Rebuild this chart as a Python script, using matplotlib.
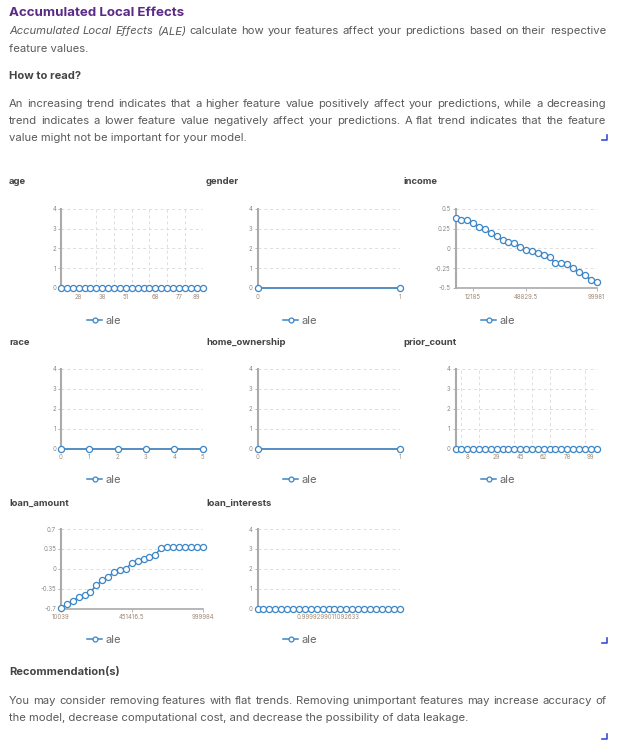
import numpy as np
import matplotlib
matplotlib.use("Agg")
import matplotlib.pyplot as plt
from matplotlib.lines import Line2D

plt.rcParams['font.family'] = ['Inter', 'DejaVu Sans']

W, H = 617, 749
BLUE = '#3d85c6'
TXT = '#5a5a5a'
HEAD = '#444444'

# ---- data ----
age_ale = [0, 0, 0, 0, 0, 0, 0, 0, 0, 0, 0, 0, 0, 0, 0, 0, 0, 0, 0, 0, 0, 0, 0, 0, 0]
age_tick_idx = [3, 7, 11, 16, 20, 23]
age_tick_lbl = ['28', '38', '51', '68', '77', '89']

gender_ale = [0, 0]
gender_tick_lbl = ['0', '1']

income_ale = [0.385, 0.364, 0.364, 0.321, 0.274, 0.253, 0.198, 0.160, 0.109, 0.083,
              0.074, 0.023, -0.019, -0.032, -0.053, -0.083, -0.113, -0.189, -0.189,
              -0.202, -0.253, -0.296, -0.338, -0.394, -0.423]
income_tick_idx = [3, 12, 24]
income_tick_lbl = ['12185', '48829.5', '99981']

race_ale = [0, 0, 0, 0, 0, 0]
race_tick_lbl = ['0', '1', '2', '3', '4', '5']

home_ale = [0, 0]
home_tick_lbl = ['0', '1']

prior_ale = [0, 0, 0, 0, 0, 0, 0, 0, 0, 0, 0, 0, 0, 0, 0, 0, 0, 0, 0, 0, 0, 0, 0, 0, 0]
prior_tick_idx = [2, 7, 11, 15, 19, 23]
prior_tick_lbl = ['8', '29', '45', '62', '78', '99']

loan_ale = [-0.688, -0.624, -0.571, -0.50, -0.459, -0.406, -0.294, -0.20, -0.141, -0.059,
            -0.029, 0.0, 0.10, 0.129, 0.165, 0.20, 0.247, 0.37, 0.385, 0.385, 0.385,
            0.385, 0.385, 0.385, 0.385]
loan_tick_idx = [0, 12, 24]
loan_tick_lbl = ['10039', '451416.5', '999984']

interest_ale = [0, 0, 0, 0, 0, 0, 0, 0, 0, 0, 0, 0, 0, 0, 0, 0, 0, 0, 0, 0, 0, 0, 0, 0, 0]
interest_tick_idx = [12]
interest_tick_lbl = ['0.9999299011092633']

fig = plt.figure(figsize=(W / 100, H / 100), dpi=100)
fig.patch.set_facecolor('white')


def fy(y):
    return 1 - y / H


def add_ax(x0, y0, x1, y1):
    return fig.add_axes([x0 / W, 1 - y1 / H, (x1 - x0) / W, (y1 - y0) / H])


def panel(ax, vals, ylim, yticks, ylabels, tick_idx, tick_lbl, grid_idx):
    x = np.arange(len(vals))
    ax.plot(x, vals, color=BLUE, lw=1.1, marker='o', ms=4.4, mfc='white',
            mec=BLUE, mew=0.9, clip_on=False, zorder=5, label='ale')
    ax.set_xlim(0, len(vals) - 1)
    ax.set_ylim(*ylim)
    for s in ['top', 'right']:
        ax.spines[s].set_visible(False)
    ax.spines['left'].set_color('#aaaaaa')
    ax.spines['left'].set_linewidth(1.5)
    ax.spines['bottom'].set_color('#aaaaaa')
    ax.spines['bottom'].set_linewidth(1.2)
    ax.set_yticks(yticks, ylabels)
    ax.set_xticks(tick_idx, tick_lbl)
    ax.set_xticks(grid_idx, minor=True)
    ax.tick_params(axis='y', labelsize=4.4, colors='#aaaaaa', labelcolor='#888888',
                   length=2, width=0.6, pad=1.5)
    ax.tick_params(axis='x', which='major', labelsize=4.4, colors='#aaaaaa',
                   labelcolor='#a08a78', length=2, width=0.6, pad=2)
    ax.tick_params(axis='x', which='minor', length=0)
    ax.yaxis.grid(True, ls=(0, (3, 3)), color='#dddddd', lw=0.7)
    ax.xaxis.grid(True, which='minor', ls=(0, (3, 3)), color='#dddddd', lw=0.7)
    ax.xaxis.grid(False, which='major')
    ax.set_axisbelow(True)


def legend(ax, cx, cy):
    ax.legend(loc='center', bbox_to_anchor=(cx / W, fy(cy)), bbox_transform=fig.transFigure,
              frameon=False, fontsize=8, handlelength=1.4, handletextpad=0.3,
              labelcolor='#666666', markerscale=0.8, borderpad=0)


zero4 = ((0, 4), [0, 1, 2, 3, 4], ['0', '1', '2', '3', '4'])
cols = [(61, 202.5), (257.5, 399.5), (455.5, 596.5)]
rows = [(209, 288), (369, 448.5), (529, 608.5)]
leg_x = [104, 300, 498]
leg_y = [321, 480, 640]
title_x = [9, 206, 403]
title_y = [182, 343, 503]

panels = [
    ('age', age_ale, zero4, age_tick_idx, age_tick_lbl, list(range(3, 25, 3))),
    ('gender', gender_ale, zero4, [0, 1], gender_tick_lbl, [1]),
    ('income', income_ale, ((-0.5, 0.5), [-0.5, -0.25, 0, 0.25, 0.5],
                            ['-0.5', '-0.25', '0', '0.25', '0.5']),
     income_tick_idx, income_tick_lbl, [3, 12, 24]),
    ('race', race_ale, zero4, list(range(6)), race_tick_lbl, [1, 2, 3, 4, 5]),
    ('home_ownership', home_ale, zero4, [0, 1], home_tick_lbl, [1]),
    ('prior_count', prior_ale, zero4, prior_tick_idx, prior_tick_lbl,
     list(range(1, 24, 3)) + [24]),
    ('loan_amount', loan_ale, ((-0.7, 0.7), [-0.7, -0.35, 0, 0.35, 0.7],
                               ['-0.7', '-0.35', '0', '0.35', '0.7']),
     loan_tick_idx, loan_tick_lbl, [12, 24]),
    ('loan_interests', interest_ale, zero4, interest_tick_idx, interest_tick_lbl, [24]),
]

for i, (name, vals, (ylim, yt, yl), tidx, tlbl, gidx) in enumerate(panels):
    r, c = divmod(i, 3)
    ax = add_ax(cols[c][0], rows[r][0], cols[c][1], rows[r][1])
    panel(ax, vals, ylim, yt, yl, tidx, tlbl, gidx)
    legend(ax, leg_x[c], leg_y[r])
    fig.text(title_x[c] / W, fy(title_y[r]), name, fontsize=6.8, fontweight='bold',
             color=HEAD, va='center', ha='left')

# ---- text blocks ----
renderer = fig.canvas.get_renderer()
BODY = 8.1
BASE = 3.5  # baseline offset below visual line centre, px


def width(s, style='normal', size=BODY):
    t = fig.text(0, 0, s, fontsize=size, style=style)
    w = t.get_window_extent(renderer).width
    t.remove()
    return w


def just_line(parts, y, x0=9, x1=606, size=BODY):
    toks = []
    for s, st in parts:
        toks += [(w, st) for w in s.split()]
    space = width('a a', size=size) - width('aa', size=size)
    starts = []
    acc = 0.0
    for w, st in toks:
        starts.append(acc)
        acc += width(w, st, size) + space
    natural = acc - space
    extra = (x1 - x0 - natural) / (len(toks) - 1)
    for k, ((w, st), s0) in enumerate(zip(toks, starts)):
        fig.text((x0 + s0 + k * extra) / W, fy(y + BASE), w, fontsize=size, color=TXT,
                 style=st, va='baseline', ha='left')


def plain_line(s, y, size=BODY):
    fig.text(9 / W, fy(y + BASE), s, fontsize=size, color=TXT, va='baseline', ha='left')


fig.text(9 / W, fy(12.5), 'Accumulated Local Effects', fontsize=9.6, fontweight='bold',
         color='#5a2a87', va='center', ha='left')
just_line([('Accumulated Local Effects (ALE)', 'italic'),
           ('calculate how your features affect your predictions based on their respective',
            'normal')], 31)
plain_line('feature values.', 48)

fig.text(9 / W, fy(76), 'How to read?', fontsize=8.0, fontweight='bold', color=HEAD,
         va='center', ha='left')
just_line([('An increasing trend indicates that a higher feature value positively affect '
            'your predictions, while a decreasing', 'normal')], 103.5)
just_line([('trend indicates a lower feature value negatively affect your predictions. '
            'A flat trend indicates that the feature', 'normal')], 120.5)
plain_line('value might not be important for your model.', 137.5)

fig.text(9 / W, fy(672), 'Recommendation(s)', fontsize=8.0, fontweight='bold', color=HEAD,
         va='center', ha='left')
just_line([('You may consider removing features with flat trends. Removing unimportant '
            'features may increase accuracy of', 'normal')], 701)
plain_line('the model, decrease computational cost, and decrease the possibility of '
           'data leakage.', 717.5)

# small corner markers
for cy in [140, 643, 739]:
    fig.add_artist(Line2D([602 / W, 607 / W, 607 / W], [fy(cy), fy(cy), fy(cy - 5)],
                          color='#3b4bd8', lw=1.2, transform=fig.transFigure))

fig.savefig('out.png', dpi=100)
